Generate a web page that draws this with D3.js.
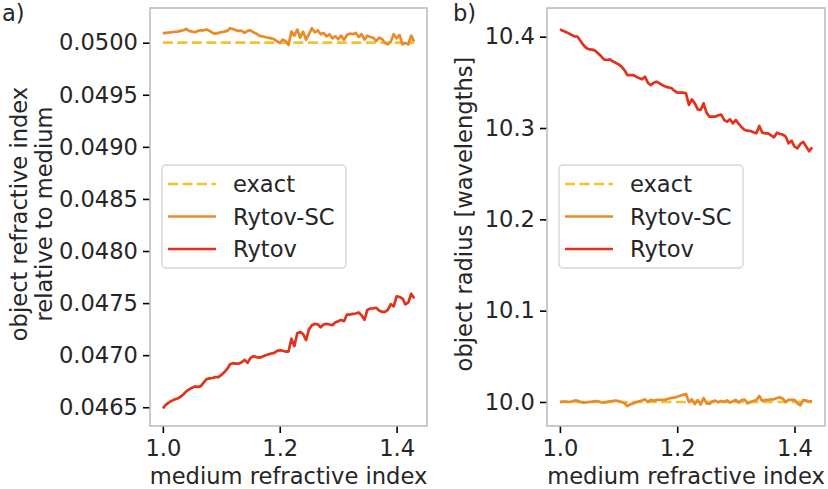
<!DOCTYPE html>
<html>
<head>
<meta charset="utf-8">
<script src="https://cdn.jsdelivr.net/npm/d3@7"></script>
<style>
  html, body { margin: 0; padding: 0; background: #fff; }
  svg { display: block; font-family: 'DejaVu Sans', sans-serif; }
</style>
</head>
<body>
<div id="chart"></div>
<script>
(function () {
  'use strict';

  // medium refractive index (x axis, both panels)
  const X = [
    1.000, 1.005, 1.010, 1.015, 1.020, 1.025, 1.030, 1.035, 1.040, 1.045,
    1.050, 1.055, 1.060, 1.065, 1.070, 1.075, 1.080, 1.085, 1.090, 1.095,
    1.100, 1.105, 1.110, 1.115, 1.120, 1.125, 1.130, 1.135, 1.140, 1.145,
    1.150, 1.155, 1.160, 1.165, 1.170, 1.175, 1.180, 1.185, 1.190, 1.195,
    1.200, 1.205, 1.210, 1.215, 1.220, 1.225, 1.230, 1.235, 1.240, 1.245,
    1.250, 1.255, 1.260, 1.265, 1.270, 1.275, 1.280, 1.285, 1.290, 1.295,
    1.300, 1.305, 1.310, 1.315, 1.320, 1.325, 1.330, 1.335, 1.340, 1.345,
    1.350, 1.355, 1.360, 1.365, 1.370, 1.375, 1.380, 1.385, 1.390, 1.395,
    1.400, 1.405, 1.410, 1.415, 1.420, 1.425, 1.430
  ];

  // panel a) object refractive index relative to medium
  const EXACT_A = 0.0500;
  const RYTOV_SC_A = [
    0.050090, 0.050094, 0.050097, 0.050100, 0.050103, 0.050106, 0.050113, 0.050119, 0.050132, 0.050113,
    0.050106, 0.050100, 0.050113, 0.050119, 0.050119, 0.050126, 0.050113, 0.050094, 0.050087, 0.050094,
    0.050100, 0.050106, 0.050113, 0.050139, 0.050132, 0.050119, 0.050113, 0.050113, 0.050094, 0.050113,
    0.050119, 0.050100, 0.050087, 0.050068, 0.050061, 0.050055, 0.050048, 0.050042, 0.050035, 0.050016,
    0.049997, 0.050029, 0.050016, 0.049977, 0.050106, 0.050068, 0.050126, 0.050048, 0.050106, 0.050029,
    0.050081, 0.050139, 0.050100, 0.050119, 0.050081, 0.050094, 0.050061, 0.050081, 0.050042, 0.050061,
    0.050035, 0.050068, 0.050029, 0.050074, 0.050087, 0.050081, 0.050094, 0.050055, 0.050081, 0.050029,
    0.050068, 0.050055, 0.050048, 0.050016, 0.050048, 0.050035, 0.049997, 0.049984, 0.050010, 0.050081,
    0.050042, 0.050074, 0.049984, 0.049997, 0.049984, 0.050068, 0.050010
  ];
  const RYTOV_A = [
    0.046490, 0.046523, 0.046545, 0.046561, 0.046574, 0.046584, 0.046600, 0.046623, 0.046652, 0.046671,
    0.046687, 0.046700, 0.046694, 0.046703, 0.046739, 0.046771, 0.046777, 0.046781, 0.046790, 0.046790,
    0.046810, 0.046835, 0.046868, 0.046913, 0.046923, 0.046919, 0.046919, 0.046932, 0.046955, 0.046926,
    0.046974, 0.046990, 0.046981, 0.046977, 0.046984, 0.046997, 0.047006, 0.047016, 0.047019, 0.047039,
    0.047048, 0.047042, 0.047035, 0.047035, 0.047158, 0.047087, 0.047210, 0.047223, 0.047203, 0.047145,
    0.047248, 0.047287, 0.047300, 0.047297, 0.047268, 0.047294, 0.047300, 0.047294, 0.047287, 0.047313,
    0.047326, 0.047339, 0.047326, 0.047390, 0.047390, 0.047397, 0.047400, 0.047410, 0.047384, 0.047339,
    0.047435, 0.047448, 0.047448, 0.047455, 0.047429, 0.047416, 0.047416, 0.047435, 0.047490, 0.047468,
    0.047565, 0.047558, 0.047545, 0.047487, 0.047506, 0.047590, 0.047545
  ];

  // panel b) object radius [wavelengths]
  const EXACT_B = 10.0;
  const RYTOV_SC_B = [
    10.0000, 10.0004, 10.0004, 10.0000, 10.0004, 10.0015, 10.0015, 10.0000, 9.9993, 9.9996,
    10.0000, 10.0004, 10.0011, 10.0007, 9.9996, 9.9993, 10.0000, 10.0007, 10.0011, 10.0015,
    10.0011, 10.0000, 9.9985, 9.9956, 9.9974, 9.9985, 9.9996, 10.0007, 10.0015, 10.0029,
    10.0000, 10.0022, 10.0015, 10.0022, 10.0022, 10.0022, 10.0026, 10.0036, 10.0044, 10.0047,
    10.0058, 10.0069, 10.0080, 10.0088, 10.0000, 10.0029, 9.9978, 10.0022, 9.9971, 10.0044,
    9.9985, 9.9978, 10.0007, 10.0015, 9.9996, 10.0011, 10.0000, 10.0018, 9.9993, 10.0007,
    10.0022, 9.9993, 10.0022, 10.0026, 9.9985, 10.0000, 10.0011, 10.0022, 10.0066, 10.0011,
    10.0022, 10.0022, 10.0029, 10.0029, 10.0044, 10.0051, 10.0036, 10.0000, 10.0022, 10.0022,
    10.0022, 9.9985, 9.9964, 10.0022, 10.0015, 10.0007, 10.0007
  ];
  const RYTOV_B = [
    10.4080, 10.4066, 10.4051, 10.4036, 10.4018, 10.4004, 10.4000, 10.3956, 10.3909, 10.3876,
    10.3861, 10.3858, 10.3847, 10.3818, 10.3788, 10.3752, 10.3745, 10.3752, 10.3730, 10.3715,
    10.3697, 10.3672, 10.3635, 10.3580, 10.3580, 10.3580, 10.3562, 10.3547, 10.3533, 10.3562,
    10.3496, 10.3467, 10.3496, 10.3507, 10.3489, 10.3467, 10.3453, 10.3445, 10.3438, 10.3409,
    10.3387, 10.3387, 10.3387, 10.3380, 10.3252, 10.3314, 10.3270, 10.3204, 10.3197, 10.3270,
    10.3168, 10.3124, 10.3124, 10.3124, 10.3139, 10.3146, 10.3088, 10.3069, 10.3095, 10.3051,
    10.3088, 10.3044, 10.3007, 10.2978, 10.2971, 10.2967, 10.2953, 10.2942, 10.3022, 10.2949,
    10.2942, 10.2942, 10.2920, 10.2898, 10.2949, 10.2934, 10.2927, 10.2905, 10.2832, 10.2861,
    10.2796, 10.2777, 10.2825, 10.2847, 10.2796, 10.2745, 10.2788
  ];

  const X_TICKS = [1.0, 1.2, 1.4];
  const Y_TICKS_A = [0.0465, 0.0470, 0.0475, 0.0480, 0.0485, 0.0490, 0.0495, 0.0500];
  const Y_TICKS_B = [10.0, 10.1, 10.2, 10.3, 10.4];
  const LEGEND_LABELS = ['exact', 'Rytov-SC', 'Rytov'];

  const COLORS = {
    exact: '#f2c230',
    rytovSC: '#e88b28',
    rytov: '#e2321c'
  };

  const W = 828, H = 489;
  const FONT = 22.6;

  const svg = d3.select('#chart').append('svg')
    .attr('width', W)
    .attr('height', H);

  function drawPanel(opts) {
    const x = d3.scaleLinear().domain([0.978, 1.452]).range([opts.left, opts.right]);
    const y = d3.scaleLinear().domain(opts.yDomain).range([426, 8]);
    const g = svg.append('g');

    // axes
    const xAxis = d3.axisBottom(x).tickValues(X_TICKS).tickFormat(d3.format('.1f'))
      .tickSize(7).tickPadding(7);
    const yAxis = d3.axisLeft(y).tickValues(opts.yTicks).tickFormat(d3.format(opts.yFormat))
      .tickSize(7).tickPadding(5);

    [g.append('g').attr('transform', 'translate(0,426)').call(xAxis),
     g.append('g').attr('transform', 'translate(' + opts.left + ',0)').call(yAxis)]
      .forEach(function (ax) {
        ax.select('.domain').remove();
        ax.selectAll('line').attr('stroke', '#000').attr('stroke-width', 1.6);
        ax.selectAll('text')
          .attr('fill', '#262626')
          .style('font-family', "'DejaVu Sans', sans-serif")
          .style('font-size', FONT + 'px');
      });

    // lines
    const line = d3.line()
      .x(function (d) { return x(d[0]); })
      .y(function (d) { return y(d[1]); });

    const clipId = 'clip-' + opts.name;
    g.append('clipPath').attr('id', clipId)
      .append('rect')
      .attr('x', opts.left).attr('y', 8)
      .attr('width', opts.right - opts.left).attr('height', 418);

    const plot = g.append('g').attr('clip-path', 'url(#' + clipId + ')');

    plot.append('path')
      .datum(X.map(function (v) { return [v, opts.exact]; }))
      .attr('d', line)
      .attr('fill', 'none')
      .attr('stroke', COLORS.exact)
      .attr('stroke-width', 2.7)
      .attr('stroke-dasharray', '10,4.5');

    plot.append('path')
      .datum(X.map(function (v, i) { return [v, opts.sc[i]]; }))
      .attr('d', line)
      .attr('fill', 'none')
      .attr('stroke', COLORS.rytovSC)
      .attr('stroke-width', 2.7)
      .attr('stroke-linejoin', 'round');

    plot.append('path')
      .datum(X.map(function (v, i) { return [v, opts.rytov[i]]; }))
      .attr('d', line)
      .attr('fill', 'none')
      .attr('stroke', COLORS.rytov)
      .attr('stroke-width', 2.7)
      .attr('stroke-linejoin', 'round');

    // frame
    g.append('rect')
      .attr('x', opts.left).attr('y', 8)
      .attr('width', opts.right - opts.left).attr('height', 418)
      .attr('fill', 'none')
      .attr('stroke', '#bdbdbd')
      .attr('stroke-width', 1.6);

    // legend
    const lg = g.append('g').attr('transform', 'translate(' + (opts.left + 12) + ',165)');
    lg.append('rect')
      .attr('width', 184).attr('height', 103)
      .attr('rx', 4)
      .attr('fill', '#fff').attr('fill-opacity', 0.8)
      .attr('stroke', '#d6d6d6').attr('stroke-width', 1.4);

    const styles = [
      { color: COLORS.exact, dash: '10,4.5' },
      { color: COLORS.rytovSC, dash: null },
      { color: COLORS.rytov, dash: null }
    ];
    LEGEND_LABELS.forEach(function (label, i) {
      const cy = 19 + i * 32.5;
      lg.append('line')
        .attr('x1', 6).attr('x2', 54)
        .attr('y1', cy).attr('y2', cy)
        .attr('stroke', styles[i].color)
        .attr('stroke-width', 2.7)
        .attr('stroke-dasharray', styles[i].dash);
      lg.append('text')
        .attr('x', 71).attr('y', cy)
        .attr('dy', '0.36em')
        .attr('fill', '#262626')
        .style('font-size', FONT + 'px')
        .text(label);
    });

    // x label
    g.append('text')
      .attr('x', (opts.left + opts.right) / 2).attr('y', 484)
      .attr('text-anchor', 'middle')
      .attr('fill', '#262626')
      .style('font-size', FONT + 'px')
      .text('medium refractive index');

    // y label (one or more lines)
    opts.yLabel.forEach(function (txt, i) {
      g.append('text')
        .attr('transform', 'translate(' + opts.yLabelX[i] + ',214) rotate(-90)')
        .attr('text-anchor', 'middle')
        .attr('fill', '#262626')
        .style('font-size', FONT + 'px')
        .text(txt);
    });

    // panel letter
    g.append('text')
      .attr('x', opts.letterX).attr('y', 21)
      .attr('fill', '#262626')
      .style('font-size', FONT + 'px')
      .text(opts.letter);
  }

  drawPanel({
    name: 'a', left: 150, right: 427,
    yDomain: [0.046320, 0.050333], yTicks: Y_TICKS_A, yFormat: '.4f',
    exact: EXACT_A, sc: RYTOV_SC_A, rytov: RYTOV_A,
    yLabel: ['object refractive index', 'relative to medium'], yLabelX: [27, 52],
    letter: 'a)', letterX: 2
  });

  drawPanel({
    name: 'b', left: 547, right: 825,
    yDomain: [9.9737, 10.4314], yTicks: Y_TICKS_B, yFormat: '.1f',
    exact: EXACT_B, sc: RYTOV_SC_B, rytov: RYTOV_B,
    yLabel: ['object radius [wavelengths]'], yLabelX: [472],
    letter: 'b)', letterX: 453
  });
})();
</script>
</body>
</html>
